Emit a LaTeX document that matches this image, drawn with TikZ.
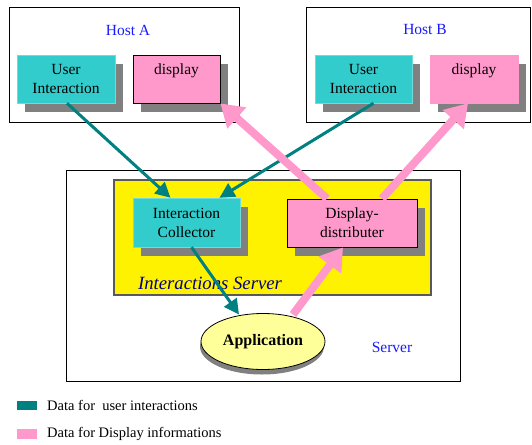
\documentclass[tikz,border=0pt]{standalone}
\usepackage{fontspec}
\setmainfont{Liberation Serif}
\usetikzlibrary{arrows.meta,shapes.geometric,shadows}
\definecolor{cyanbox}{HTML}{33CCCC}
\definecolor{pinkbox}{HTML}{FF99CC}
\definecolor{tealarrow}{HTML}{008080}
\definecolor{shgray}{HTML}{808080}
\definecolor{appyellow}{HTML}{FFFF99}
\definecolor{hostblue}{HTML}{1A1AFF}
\definecolor{navytext}{HTML}{000080}
\begin{document}
\begin{tikzpicture}[x=1pt,y=-1pt,
  hostbox/.style={draw=black,line width=0.9pt,fill=white,inner sep=0pt},
  shadowed/.style={drop shadow={shadow xshift=8pt,shadow yshift=-9pt,fill=shgray,opacity=1}},
  boxtext/.style={font=\fontsize{15.5}{19}\selectfont,align=center,inner sep=0pt,text=black},
  cyanbox/.style={boxtext,shadowed,fill=cyanbox,draw=cyanbox!70!white,line width=0.5pt},
  pinkbox/.style={boxtext,shadowed,fill=pinkbox,draw=black,line width=0.8pt},
  pinkboxnb/.style={boxtext,shadowed,fill=pinkbox,draw=pinkbox,line width=0.5pt},
  tealarr/.style={draw=tealarrow,line width=3pt,-{Triangle[length=15pt,width=15pt]}},
  pinkarr/.style={draw=pinkbox,line width=8pt,-{Triangle[length=22pt,width=27pt]}},
  lbl/.style={font=\fontsize{15.5}{19}\selectfont,text=hostblue,inner sep=0pt},
  legtext/.style={font=\fontsize{14.5}{17}\selectfont,anchor=west,inner sep=0pt}
]
\useasboundingbox (0,0) rectangle (532,444);
\fill[white] (0,0) rectangle (532,444);

% Host boxes
\node[hostbox,minimum width=230pt,minimum height=115pt] (hosta) at (124,64.5) {};
\node[hostbox,minimum width=224pt,minimum height=115pt] (hostb) at (418,64.5) {};
\node[lbl] (hostalbl) at (128,30) {Host A};
\node[lbl] (hostblbl) at (425,30) {Host B};

% Server
\node[hostbox,minimum width=394pt,minimum height=211pt] (server) at (263,275.5) {};
\node[draw=black!65,line width=1.2pt,fill=yellow,minimum width=317pt,minimum height=115pt,inner sep=0pt] (isrv) at (272.5,237.5) {};
\node[font=\fontsize{18.7}{22}\selectfont\itshape,text=navytext,inner sep=0pt] (isrvlbl) at (210,283) {Interactions Server};
\node[lbl] (serverlbl) at (392,347) {Server};

% Host nodes
\node[cyanbox,minimum width=98pt,minimum height=48pt] (uia) at (66,79) {User\\Interaction};
\node[pinkbox,minimum width=87pt,minimum height=48pt] (da) at (176.5,79) {display\\\mbox{}};
\node[cyanbox,minimum width=97pt,minimum height=48pt] (uib) at (363.5,79) {User\\Interaction};
\node[pinkboxnb,minimum width=88pt,minimum height=48pt] (db) at (474,79) {display\\\mbox{}};

% Server nodes
\node[cyanbox,minimum width=107pt,minimum height=49pt] (ic) at (186.5,222.5) {Interaction\\Collector};
\node[pinkbox,minimum width=130pt,minimum height=48pt] (dd) at (352,223) {Display-\\distributer};
\node[ellipse,draw=black,line width=0.8pt,fill=appyellow,minimum width=124pt,minimum height=56pt,inner sep=0pt,
      drop shadow={shadow xshift=-1pt,shadow yshift=-5pt,fill=shgray,opacity=1},
      font=\fontsize{16}{19}\selectfont\bfseries] (app) at (263,341.5) {Application};

% Teal arrows
\draw[tealarr] ([xshift=1pt]uia.south) -- ([xshift=-16pt]ic.north);
\draw[tealarr] ([xshift=10pt]uib.south) -- ([xshift=33pt]ic.north);
\draw[tealarr] ([xshift=5pt]ic.south) -- ([shift={(-24,-27)}]app.center);

% Pink arrows
\draw[pinkarr] ([xshift=-25pt]dd.north) -- (da.south east);
\draw[pinkarr] ([xshift=30pt]dd.north) -- ([xshift=-6pt]db.south);
\draw[pinkarr] ([shift={(30,-27)}]app.center) -- ([xshift=-9pt]dd.south);

% Legend
\node[fill=tealarrow,minimum width=20pt,minimum height=9pt,inner sep=0pt] (legt) at (27,405.5) {};
\node[fill=pinkbox,minimum width=20pt,minimum height=10pt,inner sep=0pt] (legp) at (27,434) {};
\node[legtext] (legttxt) at (47,405.5) {Data for\ \ user interactions};
\node[legtext] (legptxt) at (47,434) {Data for Display informations};
\end{tikzpicture}
\end{document}
